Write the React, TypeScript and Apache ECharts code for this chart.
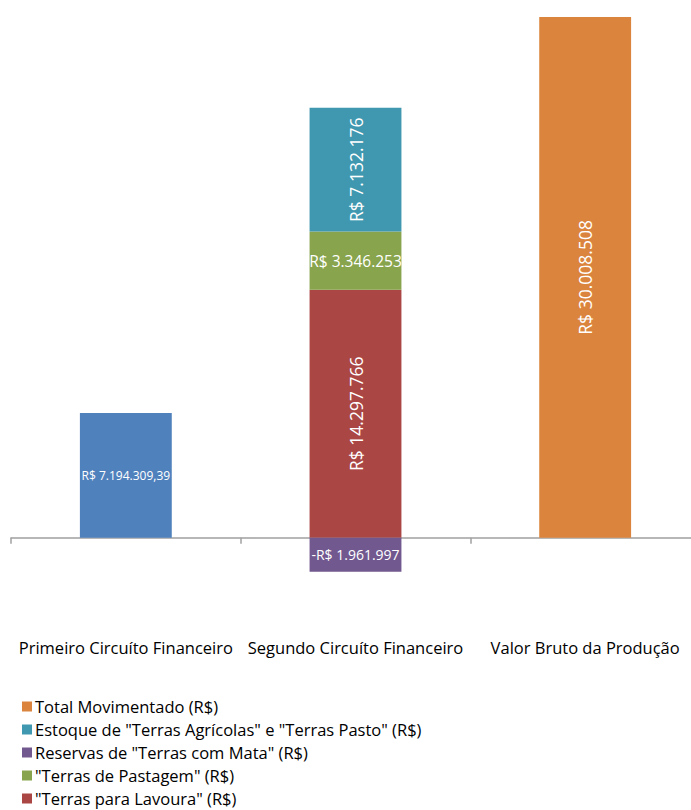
import React, { useEffect, useRef } from "react";
import * as echarts from "echarts";

const categories = ["Primeiro Circuíto Financeiro", "Segundo Circuíto Financeiro", "Valor Bruto da Produção"];
const primeiroValues = [7194309.39, null, null];
const lavouraValues = [null, 14297766, null];
const pastagemValues = [null, 3346253, null];
const reservasValues = [null, -1961997, null];
const estoqueValues = [null, 7132176, null];
const totalValues = [null, null, 30008508];
const legendOrder = [
  "Total Movimentado (R$)",
  "Estoque de \"Terras Agrícolas\" e \"Terras Pasto\" (R$)",
  "Reservas de \"Terras com Mata\" (R$)",
  "\"Terras de Pastagem\" (R$)",
  "\"Terras para Lavoura\" (R$)",
];

const FONT = "Open Sans";

function fmt(v: number, dec: number): string {
  const neg = v < 0;
  const a = Math.abs(v);
  const fixed = a.toFixed(dec);
  const [ip, dp] = fixed.split(".");
  const withSep = ip.replace(/\B(?=(\d{3})+(?!\d))/g, ".");
  return (neg ? "-" : "") + "R$ " + withSep + (dp ? "," + dp : "");
}

export default function App() {
  const ref = useRef<HTMLDivElement>(null);
  useEffect(() => {
    if (!ref.current) return;
    const chart = echarts.init(ref.current, null, { renderer: "svg" });
    const mk = (name: string, data: any[], color: string, fontSize: number, rotate: number, dec: number) => ({
      name,
      type: "bar",
      stack: "s",
      data,
      barWidth: "40%",
      itemStyle: { color },
      label: {
        show: true,
        position: "inside",
        rotate,
        color: "#fff",
        fontFamily: FONT,
        fontSize,
        formatter: (p: any) => fmt(p.value, dec),
      },
    });
    chart.setOption({
      animation: false,
      grid: { left: 11, width: 689, top: 17, bottom: 175, containLabel: false },
      xAxis: [
        {
          type: "category",
          data: categories,
          axisLine: { show: true, onZero: true, lineStyle: { color: "#A0A0A0", width: 1.5 } },
          axisTick: { show: true, length: 6, lineStyle: { color: "#A0A0A0", width: 1.5 } },
          axisLabel: { show: false },
        },
        {
          type: "category",
          data: categories,
          position: "bottom",
          axisLine: { show: false, onZero: false },
          axisTick: { show: false },
          axisLabel: { show: true, color: "#000", fontFamily: FONT, fontSize: 16.5, margin: 4, interval: 0 },
        },
      ],
      yAxis: {
        type: "value",
        min: -5600000,
        max: 30008508,
        show: false,
        splitLine: { show: false },
      },
      legend: {
        orient: "vertical",
        left: 22,
        top: 698,
        height: 160,
        padding: 0,
        itemWidth: 10,
        itemHeight: 10,
        itemGap: 6,
        icon: "rect",
        data: legendOrder,
        textStyle: { color: "#000", fontFamily: FONT, fontSize: 16.5, lineHeight: 16, padding: [0, 0, 0, -2] },
      },
      series: [
        mk("Primeiro Circuíto Financeiro (R$)", primeiroValues, "#4F81BD", 12, 0, 2),
        mk(legendOrder[4], lavouraValues, "#AA4644", 17.5, 90, 0),
        mk(legendOrder[3], pastagemValues, "#88A44C", 15.5, 0, 0),
        mk(legendOrder[2], reservasValues, "#71588F", 14, 0, 0),
        mk(legendOrder[1], estoqueValues, "#3F98AF", 17.5, 90, 0),
        mk(legendOrder[0], totalValues, "#DB843D", 17.5, 90, 0),
      ],
    });
    return () => chart.dispose();
  }, []);
  return <div ref={ref} style={{ position: "fixed", left: 0, top: 0, width: 712, height: 810, background: "#fff" }} />;
}
